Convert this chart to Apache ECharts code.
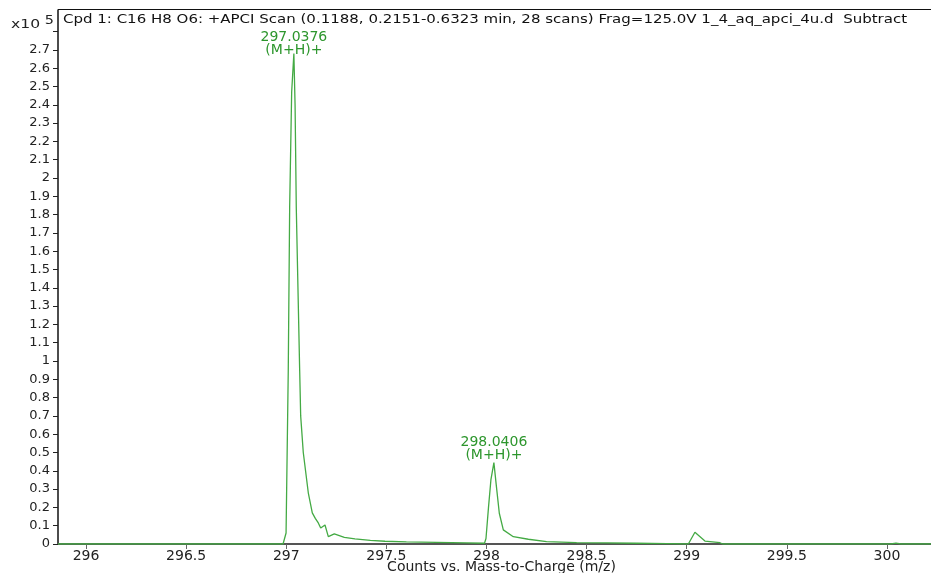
<!DOCTYPE html>
<html>
<head>
<meta charset="utf-8">
<script src="https://cdn.jsdelivr.net/npm/echarts@6/dist/echarts.min.js"></script>
<style>html,body{margin:0;padding:0;background:#fff}#c{width:931px;height:573px}</style>
</head>
<body>
<div id="c"></div>
<script>
// m/z values (x) and counts (x10^5)
const mz = [295.86, 296.984, 296.999, 297.010, 297.017, 297.027, 297.038, 297.044, 297.050, 297.067, 297.072, 297.085, 297.110, 297.130, 297.145, 297.160, 297.172, 297.1935, 297.210, 297.240, 297.290, 297.343, 297.420, 297.493, 297.600, 297.750, 297.900, 297.990, 297.9975, 298.010, 298.022, 298.037, 298.048, 298.064, 298.084, 298.134, 298.209, 298.300, 298.450, 298.600, 298.750, 298.900, 299.008, 299.041, 299.091, 299.166, 299.180, 300.020, 300.045, 300.070, 300.22];
const counts = [0, 0, 0.06, 0.95, 1.84, 2.47, 2.68, 2.40, 1.84, 0.95, 0.70, 0.50, 0.28, 0.17, 0.14, 0.115, 0.087, 0.104, 0.04, 0.055, 0.036, 0.028, 0.02, 0.015, 0.012, 0.009, 0.006, 0.004, 0.03, 0.20, 0.35, 0.445, 0.33, 0.168, 0.077, 0.04, 0.026, 0.013, 0.008, 0.006, 0.004, 0.002, 0, 0.064, 0.016, 0.007, 0, 0, 0.005, 0, 0];
const peakIndex = [6, 31];
const peakText = ['297.0376', '298.0406'];
const peakIon = ['(M+H)+', '(M+H)+'];
const xTicks = [296, 296.5, 297, 297.5, 298, 298.5, 299, 299.5, 300];
const yTicks = [0, 0.1, 0.2, 0.3, 0.4, 0.5, 0.6, 0.7, 0.8, 0.9, 1, 1.1, 1.2, 1.3, 1.4, 1.5, 1.6, 1.7, 1.8, 1.9, 2, 2.1, 2.2, 2.3, 2.4, 2.5, 2.6, 2.7, 2.8];
const yLabels = [0, 0.1, 0.2, 0.3, 0.4, 0.5, 0.6, 0.7, 0.8, 0.9, 1, 1.1, 1.2, 1.3, 1.4, 1.5, 1.6, 1.7, 1.8, 1.9, 2, 2.1, 2.2, 2.3, 2.4, 2.5, 2.6, 2.7];
const titleText = 'Cpd 1: C16 H8 O6: +APCI Scan (0.1188, 0.2151-0.6323 min, 28 scans) Frag=125.0V 1_4_aq_apci_4u.d  Subtract';
const xName = 'Counts vs. Mass-to-Charge (m/z)';

const FONT = 'DejaVu Sans';
const chart = echarts.init(document.getElementById('c'), null, {renderer: 'canvas'});
const data = mz.map((m, i) => [m, counts[i]]);
const peakDist = [-3, 1];

chart.setOption({
  animation: false,
  grid: {left: 58, right: 0, top: 10, bottom: 29, containLabel: false, outerBoundsMode: 'none'},
  xAxis: {
    type: 'value', min: 295.86, max: 300.22,
    name: xName, nameLocation: 'middle', nameGap: 16, nameMoveOverlap: false,
    nameTextStyle: {fontFamily: FONT, fontSize: 14, color: '#222', padding: [0, 0, 0, 14]},
    axisLine: {show: true, lineStyle: {color: '#555', width: 2}},
    axisTick: {show: true, customValues: xTicks, length: 5, lineStyle: {color: '#666'}},
    axisLabel: {customValues: xTicks, fontFamily: FONT, fontSize: 14, color: '#222', margin: 5},
    splitLine: {show: false}
  },
  yAxis: {
    type: 'value', min: 0, max: 2.918,
    axisLine: {show: true, lineStyle: {color: '#111', width: 1.5}},
    axisTick: {show: true, customValues: yTicks, length: 5, lineStyle: {color: '#222'}},
    axisLabel: {customValues: yLabels, fontFamily: FONT, fontSize: 13, color: '#222', margin: 8},
    splitLine: {show: false}
  },
  graphic: [
    {type: 'line', shape: {x1: 58, y1: 9.5, x2: 931, y2: 9.5}, style: {stroke: '#111', lineWidth: 1.2}, z: 10},
    {type: 'text', x: 63, y: 14, scaleX: 1.25, style: {text: titleText, font: '12px "DejaVu Sans"', fill: '#111'}, z: 10},
    {type: 'text', x: 11, y: 14, scaleX: 1.2, style: {
      text: '{a|x10}{s| 5}',
      rich: {a: {fontFamily: FONT, fontSize: 13, fill: '#222', padding: [4, 0, 0, 0]}, s: {fontFamily: FONT, fontSize: 12, fill: '#222', padding: [0, 0, 4, 0]}}
    }, z: 10}
  ],
  series: [{
    type: 'line', data: data, showSymbol: false, smooth: false,
    lineStyle: {color: '#44aa44', width: 1.3},
    markPoint: {
      symbol: 'circle', symbolSize: 0, silent: true,
      data: peakIndex.map((idx, k) => ({
        coord: data[idx],
        label: {
          show: true, position: 'top', distance: peakDist[k],
          formatter: peakText[k] + '\n' + peakIon[k],
          fontFamily: FONT, fontSize: 14, lineHeight: 13, color: '#2d962d', align: 'center'
        }
      }))
    }
  }]
});
</script>
</body>
</html>
